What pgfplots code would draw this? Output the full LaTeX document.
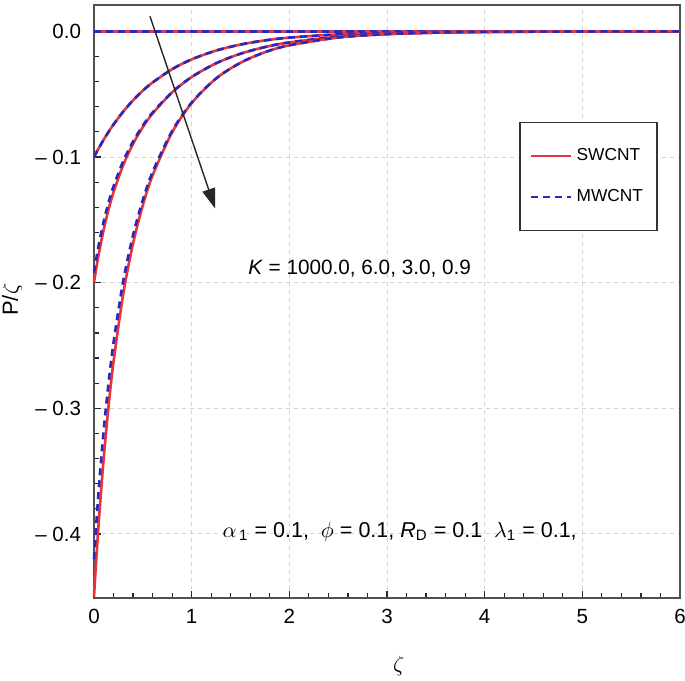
\documentclass[border=0pt]{standalone}
\usepackage{fontspec}
\setmainfont{Liberation Sans}
\usepackage{pgfplots}
\usepackage{pgfplotstable}
\pgfplotsset{compat=1.18}
\usetikzlibrary{arrows.meta}
\definecolor{swred}{RGB}{232,52,56}
\definecolor{mwblue}{RGB}{40,40,190}
\definecolor{axgray}{RGB}{80,80,80}
\definecolor{gridgray}{RGB}{212,212,212}

% SWCNT curves, K = 1000, 6, 3, 0.9
\pgfplotstableread{
x     ka   kb       kc       kd
0     0   -0.1000  -0.2000  -0.4500
0.02  0   -0.0970  -0.1901  -0.4242
0.05  0   -0.0928  -0.1767  -0.3891
0.1   0   -0.0861  -0.1575  -0.3391
0.15  0   -0.0799  -0.1415  -0.2976
0.2   0   -0.0741  -0.1280  -0.2629
0.3   0   -0.0638  -0.1063  -0.2087
0.4   0   -0.0549  -0.0895  -0.1688
0.5   0   -0.0472  -0.0762  -0.1384
0.6   0   -0.0407  -0.0654  -0.1147
0.8   0   -0.0301  -0.0486  -0.0804
1.0   0   -0.0223  -0.0364  -0.0571
1.25  0   -0.0153  -0.0254  -0.0375
1.5   0   -0.0105  -0.0178  -0.0250
1.75  0   -0.0072  -0.0125  -0.0166
2.0   0   -0.0050  -0.0088  -0.0111
2.5   0   -0.0024  -0.0043  -0.0049
3.0   0   -0.0011  -0.0021  -0.0022
3.5   0   -0.0005  -0.0010  -0.0010
4.0   0   -0.0002  -0.0005  -0.0004
5.0   0   -0.0001  -0.0001  -0.0001
6.0   0    0        0        0
}\swcnt

% MWCNT curves
\pgfplotstableread{
x     ka   kb       kc       kd
0     0   -0.1000  -0.1920  -0.4200
0.02  0   -0.0970  -0.1823  -0.3959
0.05  0   -0.0928  -0.1693  -0.3632
0.1   0   -0.0861  -0.1510  -0.3171
0.15  0   -0.0799  -0.1359  -0.2792
0.2   0   -0.0741  -0.1233  -0.2477
0.3   0   -0.0638  -0.1031  -0.1984
0.4   0   -0.0549  -0.0876  -0.1621
0.5   0   -0.0472  -0.0750  -0.1341
0.6   0   -0.0407  -0.0646  -0.1119
0.8   0   -0.0301  -0.0484  -0.0793
1.0   0   -0.0223  -0.0363  -0.0567
1.25  0   -0.0153  -0.0254  -0.0375
1.5   0   -0.0105  -0.0178  -0.0250
1.75  0   -0.0072  -0.0125  -0.0166
2.0   0   -0.0050  -0.0088  -0.0111
2.5   0   -0.0024  -0.0043  -0.0049
3.0   0   -0.0011  -0.0021  -0.0022
3.5   0   -0.0005  -0.0010  -0.0010
4.0   0   -0.0002  -0.0005  -0.0004
5.0   0   -0.0001  -0.0001  -0.0001
6.0   0    0        0        0
}\mwcnt

\begin{document}
\begin{tikzpicture}
\begin{axis}[
  scale only axis,
  width=293bp, height=296.5bp,
  xmin=0, xmax=6, ymin=-0.451, ymax=0.021,
  clip=false,
  axis line style={color=axgray, line width=1bp},
  tick pos=left, tick align=inside,
  major tick length=3.5bp, minor tick length=2.3bp,
  tick style={color=black!85, line width=0.6bp},
  xtick={0,1,2,3,4,5,6}, xticklabels={0,1,2,3,4,5,6},
  ytick={-0.4,-0.3,-0.2,-0.1,0}, yticklabels={-- 0.4,-- 0.3,-- 0.2,-- 0.1,0.0},
  minor x tick num=4, minor y tick num=4,
  tick label style={font=\fontsize{10.3}{12}\selectfont, color=black},
  xticklabel style={yshift=-2bp},
  yticklabel style={xshift=-3bp},
  grid=major, grid style={color=gridgray, dash pattern=on 2bp off 2bp, line width=0.5bp},
  xlabel={$\zeta$}, ylabel={P/$\zeta$},
  xlabel style={font=\fontsize{11}{13}\selectfont, at={(rel axis cs:0.52,-0.115)}, anchor=center},
  ylabel style={font=\fontsize{11}{13}\selectfont, at={(rel axis cs:-0.14,0.503)}, anchor=center},
  legend style={at={(rel axis cs:0.726,0.803)}, anchor=north west,
    draw=black!80, line width=0.6bp, fill=white,
    font=\fontsize{8.7}{10}\selectfont,
    inner xsep=5bp, inner ysep=11bp, row sep=9bp},
  legend cell align=left,
  legend image code/.code={\draw[#1] (0bp,0bp) -- (20bp,0bp);},
  every axis plot/.append style={line width=1.3bp},
]
\addplot[swred, smooth] table[x=x, y=ka] {\swcnt};
\addlegendentry{SWCNT}
\addplot[mwblue, smooth, dash pattern=on 3.5bp off 2.5bp] table[x=x, y=ka] {\mwcnt};
\addlegendentry{MWCNT}

\addplot[swred, smooth, forget plot] table[x=x, y=kb] {\swcnt};
\addplot[mwblue, smooth, dash pattern=on 3.5bp off 2.5bp, forget plot] table[x=x, y=kb] {\mwcnt};
\addplot[swred, smooth, forget plot] table[x=x, y=kc] {\swcnt};
\addplot[mwblue, smooth, dash pattern=on 3.5bp off 2.5bp, forget plot] table[x=x, y=kc] {\mwcnt};
\addplot[swred, smooth, forget plot] table[x=x, y=kd] {\swcnt};
\addplot[mwblue, smooth, dash pattern=on 3.5bp off 2.5bp, forget plot] table[x=x, y=kd] {\mwcnt};

\draw[black!85, line width=0.7bp, -{Triangle[length=10bp,width=6.5bp]}]
  (axis cs:0.573,0.012) -- (axis cs:1.24,-0.141);
\node[font=\fontsize{10.4}{12}\selectfont] at (axis cs:2.72,-0.189)
  {\textit{K} = 1000.0, 6.0, 3.0, 0.9};
\node[font=\fontsize{10.8}{12}\selectfont] at (axis cs:3.13,-0.3985)
  {$\alpha$\textsubscript{\,1} = 0.1, \ $\phi$ = 0.1, \textit{R}\textsubscript{D} = 0.1 \ $\lambda$\textsubscript{1} = 0.1,};
\coordinate (bbl) at (rel axis cs:-0.1604,-0.1383);
\coordinate (btr) at (rel axis cs:1.0085,1.0084);
\end{axis}
\pgfresetboundingbox
\path[use as bounding box] (bbl) rectangle (btr);
\end{tikzpicture}
\end{document}
